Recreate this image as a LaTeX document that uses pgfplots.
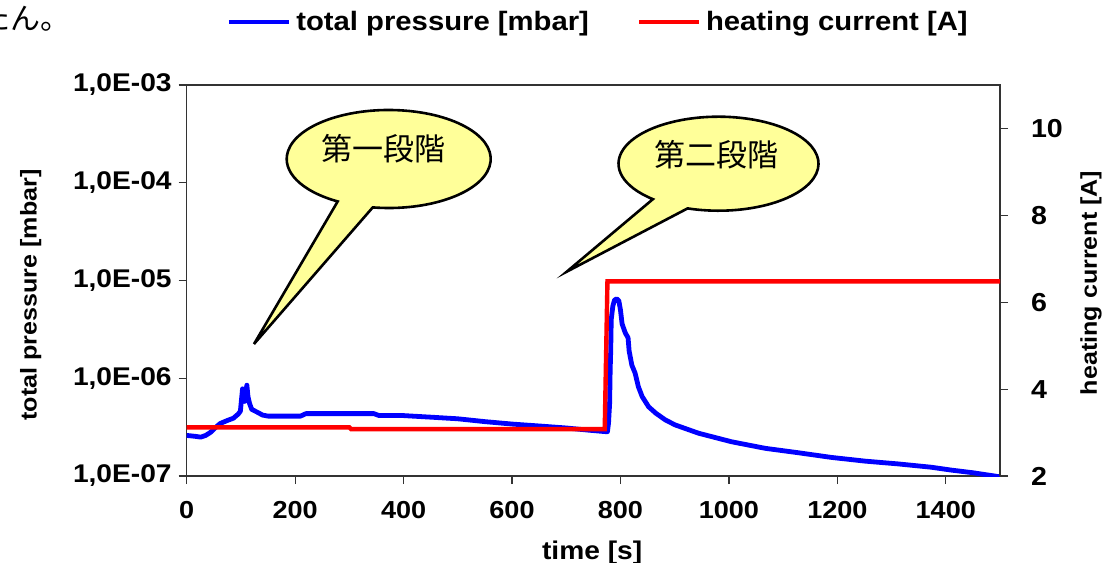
\documentclass[border=0pt]{standalone}
\usepackage{pgfplots}
\pgfplotsset{compat=1.18}
\usepackage{fontspec}
\setmainfont{Liberation Sans}[FakeStretch=1.1]
\newfontfamily\cjk{Noto Sans CJK JP}
\definecolor{callout}{HTML}{FFFF99}
\pgfplotstableread{
t p
0 2.6e-7
15 2.55e-7
26 2.5e-7
35 2.6e-7
44 2.8e-7
55 3.2e-7
62 3.45e-7
75 3.7e-7
86 3.9e-7
95 4.3e-7
99 4.6e-7
101 6.0e-7
103 7.8e-7
105 6.5e-7
107 5.8e-7
109 7.3e-7
111 8.5e-7
113 6.5e-7
116 5.5e-7
120 4.8e-7
130 4.5e-7
140 4.2e-7
150 4.1e-7
210 4.1e-7
220 4.35e-7
345 4.35e-7
355 4.15e-7
400 4.15e-7
450 4.0e-7
500 3.85e-7
550 3.6e-7
600 3.4e-7
650 3.25e-7
700 3.1e-7
740 2.95e-7
770 2.85e-7
776 2.84e-7
778 3.5e-7
780 5.5e-7
781 1.2e-6
782 1.9e-6
783 4.0e-6
786 5.5e-6
789 6.3e-6
793 6.5e-6
797 6.2e-6
800 5.0e-6
803 3.6e-6
809 2.9e-6
814 2.6e-6
816 1.9e-6
821 1.36e-6
827 1.13e-6
833 8.2e-7
840 6.5e-7
852 5.1e-7
865 4.4e-7
883 3.74e-7
901 3.33e-7
944 2.74e-7
1005 2.24e-7
1067 1.92e-7
1128 1.73e-7
1189 1.55e-7
1251 1.42e-7
1312 1.33e-7
1373 1.23e-7
1410 1.15e-7
1450 1.08e-7
1490 1.0e-7
1500 0.98e-7
}\pressure
\pgfplotstableread{
t i
0 3.12
300 3.12
303 3.08
771 3.08
776 6.48
1500 6.48
}\current
\begin{document}
\begin{tikzpicture}
\pgfplotsset{
  common/.style={
    width=406.65pt, height=195.5pt, scale only axis,
    xmin=0, xmax=1500,
    tick align=outside, major tick length=4pt,
    axis line style={black!80, line width=0.6pt},
    every tick/.style={black!80, line width=0.6pt},
    ticklabel style={font=\fontsize{12.3}{14}\selectfont\bfseries},
    label style={font=\fontsize{11.4}{14}\selectfont\bfseries},
    /pgf/number format/assume math mode=true,
    /pgf/number format/1000 sep={},
  }
}
\begin{axis}[common,
  ymode=log, ymin=1e-7, ymax=1e-3,
  ytick={1e-7,1e-6,1e-5,1e-4,1e-3},
  yticklabels={{1,0E-07},{1,0E-06},{1,0E-05},{1,0E-04},{1,0E-03}},
  yticklabel style={font=\fontsize{12.8}{14}\selectfont\bfseries},
  yminorticks=false,
  xtick={0,200,...,1400},
  xtick pos=bottom, ytick pos=left,
  xticklabel style={yshift=-5pt},
  xlabel={time [s]},
  xlabel style={at={(axis description cs:0.4985,0)}, anchor=center, yshift=-38.5pt, font=\fontsize{12.8}{15}\selectfont\bfseries},
  ylabel={total pressure [mbar]},
  ylabel style={at={(axis description cs:-0.1918,0.463)}, anchor=center},
  legend columns=2,
  legend cell align=left,
  legend image code/.code={\draw[#1] (0pt,0pt) -- (30pt,0pt);},
  legend style={draw=none, fill=none, at={(axis description cs:0.0485,1.161)}, anchor=west,
    font=\fontsize{13.3}{15}\selectfont\bfseries, inner sep=0pt,
    nodes={inner sep=0pt},
    /tikz/every odd column/.append style={column sep=2.5pt},
    /tikz/every even column/.append style={column sep=24pt}},
]
\addplot[blue, line width=2.4pt, line join=round] table[x=t, y=p] {\pressure};
\addlegendentry{total pressure [mbar]}
\addlegendimage{red, line width=2pt}
\addlegendentry{heating current [A]}
\end{axis}
\begin{axis}[common,
  axis x line=none, axis y line*=right,
  ymin=2, ymax=11, ytick={2,4,6,8,10},
  yticklabel style={xshift=8pt, font=\fontsize{13}{14}\selectfont\bfseries},
  ylabel={heating current [A]},
  ylabel style={at={(axis description cs:1.112,0.494)}, anchor=center},
]
\addplot[red, line width=2.2pt] table[x=t, y=i] {\current};
\end{axis}
% callouts
\begin{scope}[shift={(101pt,158.5pt)}]
\draw[fill=callout, line width=1.3pt, line join=miter]
  (261:51pt and 24.5pt) arc[start angle=261, end angle=600, x radius=51pt, y radius=24.5pt]
  -- (-67.35pt,-92.5pt) -- cycle;
\end{scope}
\node[font=\cjk\fontsize{15.5}{16}\selectfont] at (98.3pt,163.85pt) {第一段階};
\begin{scope}[shift={(265.9pt,156.15pt)}]
\draw[fill=callout, line width=1.3pt, line join=miter]
  (252:50pt and 23.5pt) arc[start angle=252, end angle=589, x radius=50pt, y radius=23.5pt]
  -- (-75.9pt,-54pt) -- cycle;
\end{scope}
\node[font=\cjk\fontsize{15.5}{16}\selectfont] at (265pt,160.5pt) {第二段階};
\node[anchor=west, inner sep=0pt, font=\cjk\fontsize{15}{15}\selectfont] at (-103.35pt,229pt) {たん。};
\pgfresetboundingbox
\useasboundingbox (-93.35pt,-43pt) rectangle (459.65pt,238pt);
\end{tikzpicture}
\end{document}
